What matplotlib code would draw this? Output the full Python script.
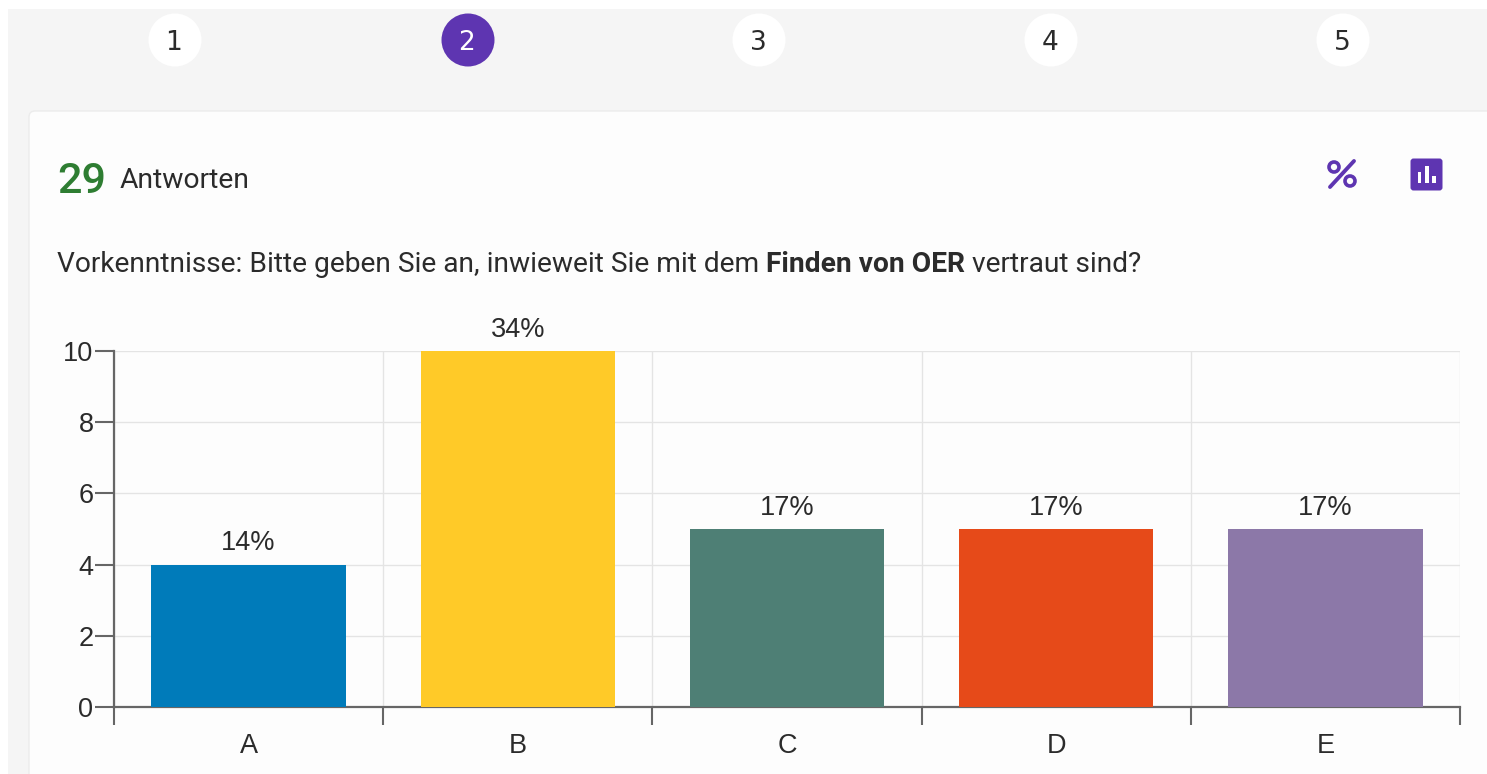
#!/usr/bin/env python3
import numpy as np
import matplotlib
matplotlib.use('Agg')
import matplotlib.pyplot as plt
from matplotlib.patches import FancyBboxPatch, Circle, Rectangle

W, H = 1487, 774

categories = ['A', 'B', 'C', 'D', 'E']
values = [4, 10, 5, 5, 5]
percent = ['14%', '34%', '17%', '17%', '17%']
colors = ['#007bba', '#ffca28', '#4e7f75', '#e64a19', '#8c78a8']
yticks = [0, 2, 4, 6, 8, 10]
steps = ['1', '2', '3', '4', '5']
step_x = [175, 468, 759, 1051, 1343]
active_step = 1
purple = '#5e35b1'
text_col = '#2b2b2b'

fig = plt.figure(figsize=(W / 100, H / 100), dpi=100, facecolor='white')

# page background in pixel coordinates
bg = fig.add_axes([0, 0, 1, 1])
bg.set_xlim(0, W)
bg.set_ylim(H, 0)
bg.axis('off')
bg.add_patch(Rectangle((8, 9), W - 8, H - 9, color='#f5f5f5', lw=0))
bg.add_patch(FancyBboxPatch((29, 111), W + 40, H, boxstyle='round,pad=0,rounding_size=6',
                            fc='#fdfdfd', ec='#ececec', lw=1))

for i, s in enumerate(steps):
    on = i == active_step
    bg.add_patch(Circle((step_x[i], 40), 26.5, color=purple if on else 'white', lw=0))
    bg.text(step_x[i] - 1, 43, s, ha='center', va='center', fontsize=19, family='DejaVu Sans',
            color='white' if on else text_col)

bg.text(57, 193, '29', fontsize=31, family='Roboto', weight='medium', color='#2e7d32', va='baseline')
bg.text(120, 188, 'Antworten', fontsize=20.3, family='Roboto', color=text_col, va='baseline')

# question, three runs because the middle one is bold
x = 57
r = fig.canvas.get_renderer()
for s, w in [('Vorkenntnisse: Bitte geben Sie an, inwieweit Sie mit dem ', 'normal'),
             ('Finden von OER', 'bold'), (' vertraut sind?', 'normal')]:
    t = bg.text(x, 272, s.replace(' ', '\u00a0'), fontsize=20.25, family='Roboto', weight=w,
                color=text_col, va='baseline')
    x += t.get_window_extent(r).width

# percent icon
bg.plot([1330, 1354], [187, 161], color=purple, lw=2.8, solid_capstyle='round')
bg.add_patch(Circle((1334, 167), 5, fc='none', ec=purple, lw=2.6))
bg.add_patch(Circle((1350, 181), 5, fc='none', ec=purple, lw=2.6))

# chart icon
bg.add_patch(FancyBboxPatch((1410.5, 158.5), 32, 32, boxstyle='round,pad=0,rounding_size=3',
                            fc=purple, ec='none'))
for bx, by, bh in [(1417.5, 172, 11), (1425, 166, 17), (1432, 176, 7)]:
    bg.add_patch(Rectangle((bx, by), 3.6, bh, color='white', lw=0))

# chart
ax = fig.add_axes([114 / W, 1 - 707 / H, (1460 - 114) / W, (707 - 351) / H])
ax.patch.set_alpha(0)
pos = np.arange(len(categories))
ax.bar(pos, values, width=0.722, color=colors, zorder=3)
ax.set_xlim(-0.5, 4.5)
ax.set_ylim(0, 10)

ax.set_yticks(yticks)
ax.set_xticks(pos)
ax.set_xticklabels(categories)
ax.set_xticks(np.arange(-0.5, 5), minor=True)
ax.tick_params(axis='x', which='major', length=0, pad=19, labelsize=19.5, labelcolor=text_col)
ax.tick_params(axis='x', which='minor', length=13, width=1.5, color='#666666')
ax.tick_params(axis='y', length=14, width=1.5, color='#666666', pad=0.8, labelsize=19.5,
               labelcolor=text_col)
for lab in ax.get_xticklabels() + ax.get_yticklabels():
    lab.set_family('Liberation Sans')

ax.grid(True, axis='y', color='#e4e4e4', lw=1, zorder=0)
ax.grid(True, axis='x', which='minor', color='#e4e4e4', lw=1, zorder=0)
ax.grid(False, axis='x', which='major')
ax.set_axisbelow(True)

for sp in ['top', 'right']:
    ax.spines[sp].set_visible(False)
for sp in ['left', 'bottom']:
    ax.spines[sp].set_color('#666666')
    ax.spines[sp].set_linewidth(1.6)

for p, v, lab in zip(pos, values, percent):
    ax.annotate(lab, (p, v), xytext=(0, 6), textcoords='offset points', ha='center', va='bottom',
                fontsize=19.5, family='Liberation Sans', color=text_col, annotation_clip=False)

fig.savefig('out.png', dpi=100)
